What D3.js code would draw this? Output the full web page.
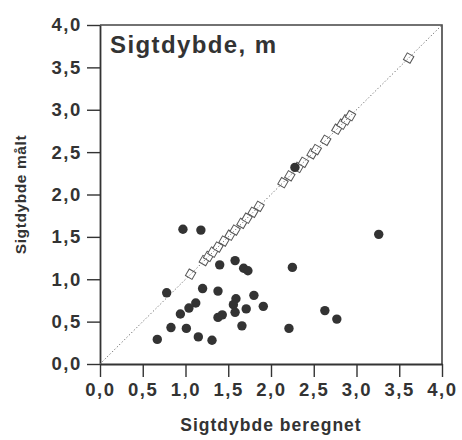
<!DOCTYPE html>
<html><head><meta charset="utf-8">
<script src="https://cdn.jsdelivr.net/npm/d3@7"></script>
<style>body{margin:0;background:#fff}svg{display:block}</style>
</head><body>
<svg id="c" width="462" height="440"></svg>
<script>
const tickValues = [0, 0.5, 1, 1.5, 2, 2.5, 3, 3.5, 4];
const tickLabels = ["0,0", "0,5", "1,0", "1,5", "2,0", "2,5", "3,0", "3,5", "4,0"];
const titleText = "Sigtdybde, m";
const xTitle = "Sigtdybde beregnet";
const yTitle = "Sigtdybde målt";
// measured vs calculated (filled circles)
const measuredX = [0.97,1.18,3.26,1.40,1.58,1.68,1.73,2.25,0.78,1.20,1.38,1.59,1.80,1.56,1.12,1.04,0.94,1.58,1.71,1.91,1.38,1.43,0.83,1.01,1.66,1.15,1.31,0.67,2.21,2.63,2.77,2.28];
const measuredY = [1.59,1.58,1.53,1.17,1.22,1.13,1.10,1.14,0.84,0.89,0.86,0.77,0.81,0.70,0.72,0.66,0.59,0.61,0.65,0.68,0.55,0.58,0.43,0.42,0.45,0.32,0.28,0.29,0.42,0.63,0.53,2.32];
// calculated vs calculated (open squares on 1:1 line)
const calculated = [1.06,1.22,1.27,1.32,1.38,1.45,1.52,1.58,1.66,1.72,1.79,1.86,2.14,2.22,2.32,2.38,2.48,2.53,2.64,2.77,2.83,2.88,2.93,3.61];

const svg = d3.select("#c");
const x = d3.scaleLinear().domain([0, 4]).range([100, 442]);
const y = d3.scaleLinear().domain([0, 4]).range([364, 25]);
const ink = "#333";
const font = "'Liberation Sans', Arial, sans-serif";

// frame (top and right)
svg.append("path")
  .attr("d", `M${x(0)},${y(4)}H${x(4)}V${y(0)}`)
  .attr("fill", "none").attr("stroke", "#444").attr("stroke-width", 1.6);

const fmt = d => tickLabels[tickValues.indexOf(d)];

const xAxis = svg.append("g").attr("transform", `translate(0,${y(0)})`)
  .call(d3.axisBottom(x).tickValues(tickValues).tickFormat(fmt).tickSizeInner(13).tickSizeOuter(0).tickPadding(6));
const yAxis = svg.append("g").attr("transform", `translate(${x(0)},0)`)
  .call(d3.axisLeft(y).tickValues(tickValues).tickFormat(fmt).tickSizeInner(13).tickSizeOuter(0).tickPadding(5));

[xAxis, yAxis].forEach(g => {
  g.select(".domain").attr("stroke", ink).attr("stroke-width", 1.8);
  g.selectAll(".tick line").attr("stroke", ink).attr("stroke-width", 1.4);
  g.selectAll(".tick text").attr("fill", ink)
    .style("font-family", font).style("font-weight", "bold")
    .style("font-size", "18.5px").style("letter-spacing", "1.6px");
});

// open squares
svg.append("g").selectAll("rect").data(calculated).join("rect")
  .attr("x", -3.8).attr("y", -3.8).attr("width", 7.6).attr("height", 7.6)
  .attr("transform", d => `translate(${x(d)},${y(d)}) rotate(30)`)
  .attr("fill", "#fff").attr("stroke", "#555").attr("stroke-width", 1);

// 1:1 dotted line
svg.append("line")
  .attr("x1", x(0)).attr("y1", y(0)).attr("x2", x(4)).attr("y2", y(4))
  .attr("stroke", "#666").attr("stroke-width", 1).attr("stroke-dasharray", "1.2,2.2");

// filled circles
svg.append("g").selectAll("circle").data(measuredX).join("circle")
  .attr("cx", d => x(d)).attr("cy", (d, i) => y(measuredY[i]))
  .attr("r", 4.7).attr("fill", "#333");

// title
svg.append("text").attr("x", 110).attr("y", 53).text(titleText)
  .attr("fill", ink).style("font-family", font).style("font-weight", "bold")
  .style("font-size", "24px").style("letter-spacing", "1.4px");

// axis titles
svg.append("text").attr("x", (x(0) + x(4)) / 2).attr("y", 431).attr("text-anchor", "middle")
  .text(xTitle).attr("fill", ink).style("font-family", font).style("font-weight", "bold")
  .style("font-size", "17.5px").style("letter-spacing", "1px");
svg.append("text").attr("transform", `translate(26,${(y(0) + y(4)) / 2}) rotate(-90)`)
  .attr("text-anchor", "middle")
  .text(yTitle).attr("fill", ink).style("font-family", font).style("font-weight", "bold")
  .style("font-size", "15.5px").style("letter-spacing", "0.6px");
</script>
</body></html>
